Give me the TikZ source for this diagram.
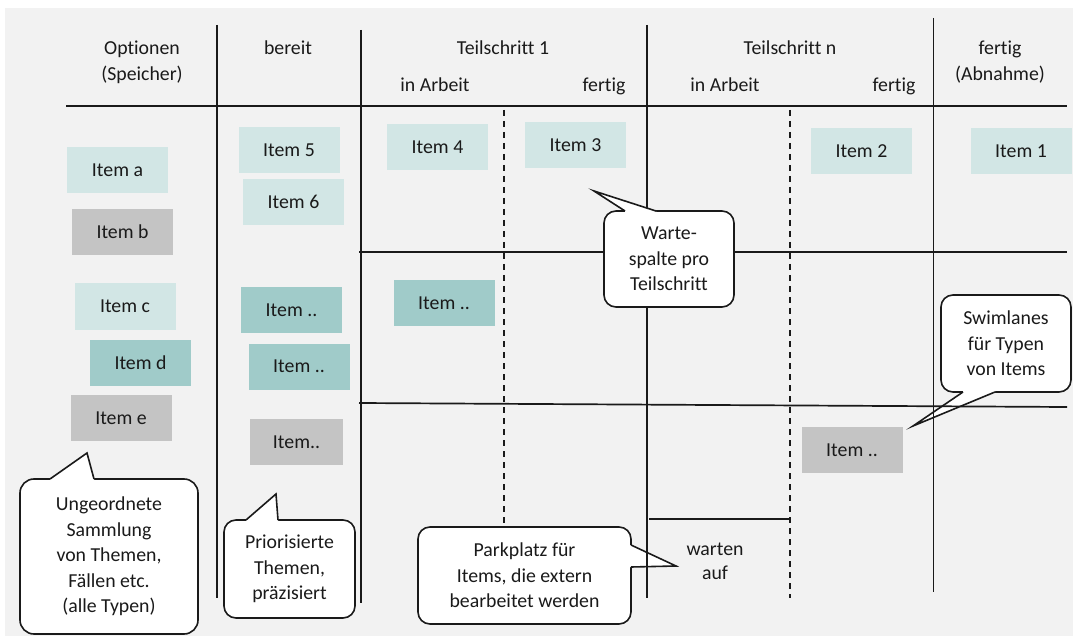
\documentclass[tikz,border=0pt]{standalone}
\usepackage{fontspec}
\setmainfont{Carlito}[Ligatures=NoCommon]
\definecolor{bgc}{HTML}{F2F2F2}
\definecolor{tealL}{HTML}{D2E6E5}
\definecolor{tealD}{HTML}{A0CBC9}
\definecolor{grayI}{HTML}{C4C4C4}
\definecolor{ink}{HTML}{1A1A1A}
\begin{document}
\begin{tikzpicture}[x=1pt,y=-1pt,
  every node/.style={font=\fontsize{19.8}{25.5}\selectfont, inner sep=0pt, text=ink},
  grid/.style={line width=1.7pt, ink},
  dashln/.style={line width=1.7pt, ink, dash pattern=on 6pt off 5pt},
  itembox/.style={minimum width=101pt, minimum height=46pt, text height=12.8pt, text depth=0pt},
  lt/.style={itembox, fill=tealL},
  dk/.style={itembox, fill=tealD},
  gr/.style={itembox, fill=grayI},
  bubble/.style={draw=ink, line width=1.6pt, fill=white, rounded corners=14pt, align=center},
  ptrfill/.style={fill=white},
  ptrline/.style={draw=ink, line width=1.6pt, line join=miter},
  hdr/.style={anchor=base}
]
\useasboundingbox (0,0) rectangle (1074,639);
\fill[bgc] (5,8) rectangle (1073,636);

% callouts drawn beneath the grid lines
\node[bubble, minimum width=178pt, minimum height=155pt] (cu) at (109,556.5)
  {Ungeordnete\\Sammlung\\von Themen,\\Fällen etc.\\(alle Typen)};
\coordinate (cutip) at (87,453);
\fill[ptrfill] (50,482) -- (50,479) -- (cutip) -- (94,479) -- (94,482) -- cycle;
\draw[ptrline] (50,479) -- (cutip) -- (94,479);

\node[bubble, rounded corners=12pt, minimum width=131pt, minimum height=98pt] (cp) at (289.5,569)
  {Priorisierte\\Themen,\\präzisiert};
\coordinate (cptip) at (276,494);
\fill[ptrfill] (246,523) -- (246,520) -- (cptip) -- (278,520) -- (278,523) -- cycle;
\draw[ptrline] (246,520) -- (cptip) -- (278,520);

\node[bubble, rounded corners=12pt, minimum width=213pt, minimum height=97pt] (ck) at (524.5,575.5)
  {Parkplatz für\\Items, die extern\\bearbeitet werden};
\coordinate (cktip) at (676,566);
\fill[ptrfill] (628,545) -- (631,545) -- (cktip) -- (631,567) -- (628,567) -- cycle;
\draw[ptrline] (631,545) -- (cktip) -- (631,567);

\node[bubble, rounded corners=12pt, minimum width=130pt, minimum height=97pt] (cs) at (1006,343.5)
  {Swimlanes\\für Typen\\von Items};
\coordinate (cstip) at (913,426);
\fill[ptrfill] (963,389) -- (963,392) -- (cstip) -- (995,392) -- (995,389) -- cycle;
\draw[ptrline] (963,392) -- (cstip) -- (995,392);

% grid
\draw[grid] (217,25) -- (217,598);
\draw[grid] (361,30) -- (361,603);
\draw[grid] (647,25) -- (647,598);
\draw[grid] (933.5,18) -- (933.5,592);
\draw[grid] (66,106) -- (1067,106);
\draw[grid] (359,252) -- (1067,252);
\draw[grid] (359,403) -- (1067,407);
\draw[grid] (649,519) -- (790,519);
\draw[dashln] (504,110) -- (504,526);
\draw[dashln] (790,110) -- (790,598);

% callout above the grid
\node[bubble, rounded corners=12pt, minimum width=130pt, minimum height=96pt] (cw) at (669,259)
  {Warte-\\spalte pro\\Teilschritt};
\coordinate (cwtip) at (594,191);
\fill[ptrfill] (625,214) -- (625,211) -- (cwtip) -- (656,211) -- (656,214) -- cycle;
\draw[ptrline] (625,211) -- (cwtip) -- (656,211);

% headers
\node[hdr] (h1a) at (142,55) {Optionen};
\node[hdr] (h1b) at (142,81) {(Speicher)};
\node[hdr] (h2) at (288,55) {bereit};
\node[hdr] (h3) at (503,55) {Teilschritt 1};
\node[hdr] (h3a) at (435,92) {in Arbeit};
\node[hdr] (h3b) at (604,92) {fertig};
\node[hdr] (h4) at (790,55) {Teilschritt n};
\node[hdr] (h4a) at (725,92) {in Arbeit};
\node[hdr] (h4b) at (894,92) {fertig};
\node[hdr] (h5a) at (1000,55) {fertig};
\node[hdr] (h5b) at (1000,81) {(Abnahme)};
\node[hdr] (wa) at (715,555) {warten};
\node[hdr] (wb) at (715,579) {auf};

% items
\node[lt] (ia) at (117.5,170) {Item a};
\node[gr] (ib) at (122.5,232) {Item b};
\node[lt] (ic) at (125,306.5) {Item c};
\node[dk] (id) at (140.5,363) {Item d};
\node[gr] (ie) at (121,418) {Item e};
\node[lt] (i5) at (289,150.5) {Item 5};
\node[lt] (i6) at (293.5,202.5) {Item 6};
\node[dk] (ib1) at (291.5,310) {Item ..};
\node[dk] (ib2) at (299,366.5) {Item ..};
\node[gr, minimum width=93pt] (ib3) at (296.5,442) {Item..};
\node[lt] (i4) at (437.5,147.5) {Item 4};
\node[lt] (i3) at (575.5,145.5) {Item 3};
\node[dk] (it1) at (444,303) {Item ..};
\node[lt] (i2) at (861.5,151.5) {Item 2};
\node[lt] (i1) at (1021,151.5) {Item 1};
\node[gr] (itn) at (852,450) {Item ..};
\end{tikzpicture}
\end{document}
